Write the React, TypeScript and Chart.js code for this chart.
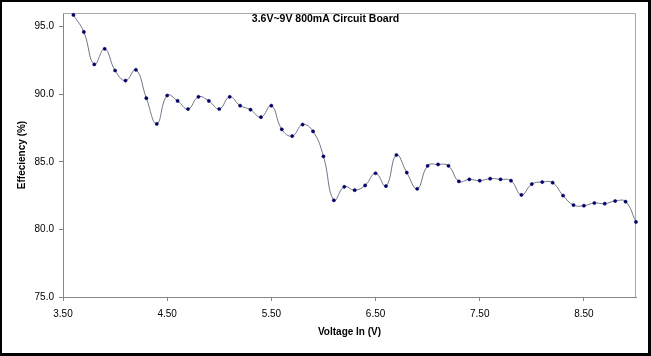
import React, { useEffect, useRef } from 'react';
import { Chart, registerables } from 'chart.js';

Chart.register(...registerables);

const chartTitle = '3.6V~9V 800mA Circuit Board';
const xAxisTitle = 'Voltage In (V)';
const yAxisTitle = 'Effeciency (%)';

const voltages = [
  3.6, 3.7, 3.8, 3.9, 4.0, 4.1, 4.2, 4.3, 4.4, 4.5,
  4.6, 4.7, 4.8, 4.9, 5.0, 5.1, 5.2, 5.3, 5.4, 5.5,
  5.6, 5.7, 5.8, 5.9, 6.0, 6.1, 6.2, 6.3, 6.4, 6.5,
  6.6, 6.7, 6.8, 6.9, 7.0, 7.1, 7.2, 7.3, 7.4, 7.5,
  7.6, 7.7, 7.8, 7.9, 8.0, 8.1, 8.2, 8.3, 8.4, 8.5,
  8.6, 8.7, 8.8, 8.9, 9.0,
];

const efficiency = [
  95.86, 94.6, 92.2, 93.35, 91.75, 91.0, 91.8, 89.7, 87.8, 89.9,
  89.5, 88.9, 89.8, 89.5, 88.9, 89.8, 89.15, 88.85, 88.3, 89.15,
  87.4, 86.9, 87.75, 87.25, 85.4, 82.15, 83.15, 82.9, 83.25, 84.15,
  83.2, 85.5, 84.2, 83.0, 84.7, 84.8, 84.7, 83.55, 83.7, 83.6,
  83.75, 83.7, 83.6, 82.55, 83.35, 83.5, 83.45, 82.5, 81.8, 81.75,
  81.95, 81.9, 82.1, 82.05, 80.55,
];

const xTicks = [3.5, 4.5, 5.5, 6.5, 7.5, 8.5];
const yTicks = [75, 80, 85, 90, 95];
const xMin = 3.5;
const xMax = 9.0;
const yMin = 75;
const yMax = 96;

const FONT = "'Liberation Sans', Arial, sans-serif";

export default function App() {
  const canvasRef = useRef<HTMLCanvasElement | null>(null);

  useEffect(() => {
    const canvas = canvasRef.current;
    if (!canvas) return;

    const framePlugin = {
      id: 'frame',
      beforeDraw(chart: any) {
        const ctx = chart.ctx;
        ctx.save();
        ctx.fillStyle = '#ffffff';
        ctx.fillRect(0, 0, chart.width, chart.height);
        ctx.restore();
      },
      beforeDatasetsDraw(chart: any) {
        const { ctx, chartArea } = chart;
        ctx.save();
        ctx.strokeStyle = '#a8a8a8';
        ctx.lineWidth = 1;
        ctx.beginPath();
        ctx.moveTo(chartArea.left, Math.round(chartArea.top) + 0.5);
        ctx.lineTo(Math.round(chartArea.right) - 0.5, Math.round(chartArea.top) + 0.5);
        ctx.lineTo(Math.round(chartArea.right) - 0.5, chartArea.bottom);
        ctx.stroke();
        ctx.restore();
      },
      afterDraw(chart: any) {
        const ctx = chart.ctx;
        const w = chart.width;
        const h = chart.height;
        ctx.save();
        ctx.fillStyle = '#000000';
        ctx.font = `bold 10.5px ${FONT}`;
        ctx.textAlign = 'center';
        ctx.textBaseline = 'middle';
        ctx.fillText(chartTitle, w / 2, 19);
        ctx.fillRect(0, 0, w, 2);
        ctx.fillRect(0, 0, 2, h);
        ctx.fillRect(w - 3, 0, 3, h);
        ctx.fillRect(0, h - 3, w, 3);
        ctx.restore();
      },
    };

    const chart = new Chart(canvas, {
      type: 'line',
      data: {
        datasets: [
          {
            label: 'Efficiency',
            data: voltages.map((v, i) => ({ x: v, y: efficiency[i] })),
            borderColor: '#74748a',
            borderWidth: 1,
            backgroundColor: '#000066',
            pointBackgroundColor: '#000066',
            pointBorderColor: '#000066',
            pointRadius: 1.6,
            pointBorderWidth: 0.5,
            tension: 0.45,
            fill: false,
            clip: 6,
          },
        ],
      },
      options: {
        responsive: false,
        animation: false,
        devicePixelRatio: 1,
        layout: { padding: { left: 0, top: 13, right: 15, bottom: 0 } },
        plugins: {
          legend: { display: false },
          title: { display: false },
          tooltip: { enabled: false },
        },
        scales: {
          x: {
            type: 'linear',
            min: xMin,
            max: xMax,
            afterBuildTicks: (s: any) => {
              s.ticks = xTicks.map((v) => ({ value: v }));
            },
            afterFit: (s: any) => {
              s.height = 59;
            },
            grid: {
              drawOnChartArea: false,
              drawTicks: true,
              tickLength: 4,
              color: '#868686',
            },
            border: { display: true, color: '#868686', width: 1 },
            ticks: {
              color: '#000000',
              padding: 7,
              maxRotation: 0,
              autoSkip: false,
              font: { size: 10, family: FONT },
              callback: (v: any) => Number(v).toFixed(2),
            },
            title: {
              display: true,
              text: xAxisTitle,
              color: '#000000',
              font: { size: 10, weight: 'bold', family: FONT },
              padding: { top: 0, bottom: 18 },
            },
          },
          y: {
            type: 'linear',
            min: yMin,
            max: yMax,
            afterBuildTicks: (s: any) => {
              s.ticks = yTicks.map((v) => ({ value: v }));
            },
            afterFit: (s: any) => {
              s.width = 63;
            },
            grid: {
              drawOnChartArea: false,
              drawTicks: true,
              tickLength: 4,
              color: '#868686',
            },
            border: { display: true, color: '#868686', width: 1 },
            ticks: {
              color: '#000000',
              padding: 5,
              autoSkip: false,
              font: { size: 10, family: FONT },
              callback: (v: any) => Number(v).toFixed(1),
            },
            title: {
              display: true,
              text: yAxisTitle,
              color: '#000000',
              font: { size: 10, weight: 'bold', family: FONT },
              padding: { top: 16, bottom: 0 },
            },
          },
        },
      },
      plugins: [framePlugin],
    } as any);

    return () => {
      chart.destroy();
    };
  }, []);

  return (
    <div style={{ position: 'absolute', left: 0, top: 0, width: 651, height: 356 }}>
      <canvas ref={canvasRef} width={651} height={356} style={{ display: 'block' }} />
    </div>
  );
}
